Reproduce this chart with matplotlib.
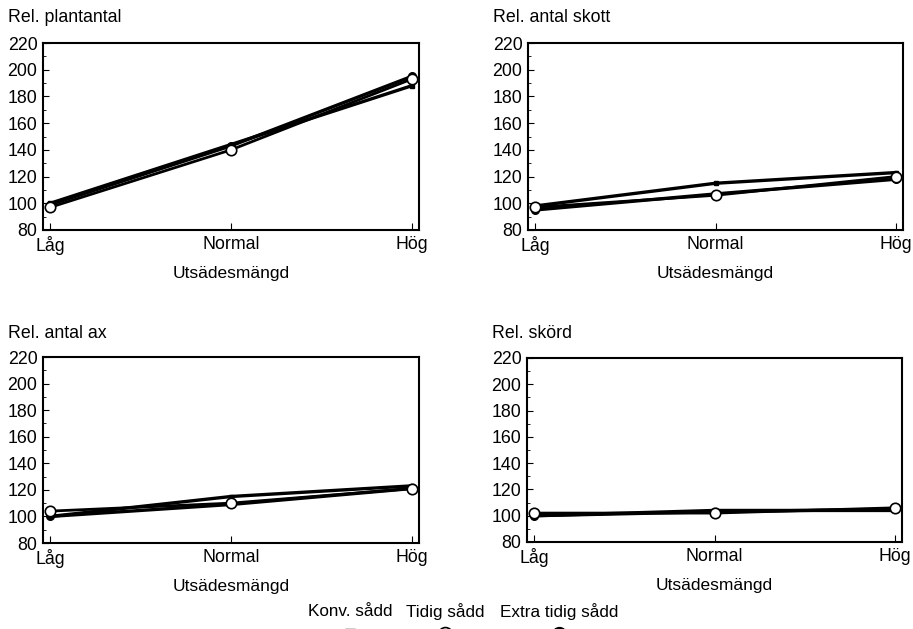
import matplotlib.pyplot as plt
from matplotlib.lines import Line2D

plt.rcParams['font.family'] = ['Liberation Sans', 'DejaVu Sans']

# utsädesmängd
levels = ['Låg', 'Normal', 'Hög']

# relativa värden per egenskap: konv., tidig, extra tidig sådd
plant_konv = [100, 144, 188]
plant_tidig = [97, 140, 193]
plant_extra = [99, 143, 195]

skott_konv = [98, 115, 123]
skott_tidig = [97, 106, 120]
skott_extra = [95, 107, 118]

ax_konv = [100, 115, 123]
ax_tidig = [104, 110, 121]
ax_extra = [100, 109, 121]

skord_konv = [100, 104, 104]
skord_tidig = [102, 102, 106]
skord_extra = [100, 103, 105]

titles = ['Rel. plantantal', 'Rel. antal skott', 'Rel. antal ax', 'Rel. skörd']
legend_labels = ['Konv. sådd', 'Tidig sådd', 'Extra tidig sådd']

W, H = 913, 629
fig = plt.figure(figsize=(W / 100, H / 100), dpi=100)
FS = 12.8

def px_axes(left, top, right, bottom):
    return fig.add_axes([left / W, 1 - bottom / H, (right - left) / W, (bottom - top) / H])

boxes = [(43, 43, 419, 230), (528, 43, 903, 230),
         (43, 357, 419, 543), (527, 358, 902, 542)]
title_pos = [(8, 18), (493, 18), (8, 334), (492, 334)]
data = [(plant_konv, plant_tidig, plant_extra),
        (skott_konv, skott_tidig, skott_extra),
        (ax_konv, ax_tidig, ax_extra),
        (skord_konv, skord_tidig, skord_extra)]

x = list(range(len(levels)))
for box, tpos, title, (konv, tidig, extra) in zip(boxes, title_pos, titles, data):
    ax = px_axes(*box)
    ax.plot(x, extra, color='black', lw=2.4, marker='o', ms=5.5,
            mfc='black', mec='black', zorder=3)
    ax.plot(x, konv, color='black', lw=2.4, marker='s', ms=3.5,
            mfc='black', mec='black', zorder=3)
    ax.plot(x, tidig, color='black', lw=2.0, marker='o', ms=7.5,
            mfc='white', mec='black', mew=1.2, zorder=4)
    ax.set_xlim(-0.04, 2.04)
    ax.set_ylim(80, 220)
    ax.set_yticks(range(80, 221, 20))
    ax.set_xticks(x)
    ax.set_xticklabels(levels)
    ax.set_yticks(range(80, 221, 10), minor=True)
    ax.tick_params(axis='both', which='both', direction='in', labelsize=FS,
                   color='black', labelcolor='black')
    ax.tick_params(axis='y', which='major', length=4, pad=4)
    ax.tick_params(axis='y', which='minor', length=2)
    ax.tick_params(axis='x', which='major', length=5, pad=4)
    ax.set_xlabel('Utsädesmängd', fontsize=12.5, labelpad=8)
    for s in ax.spines.values():
        s.set_linewidth(1.5)
    fig.text(tpos[0] / W, 1 - tpos[1] / H, title, fontsize=FS,
             ha='left', va='center')

# förklaring längst ned, symbolerna under texten
leg_x = [350, 445, 559]
leg_mark = [dict(marker='s', ms=7, mfc='black', mec='black'),
            dict(marker='o', ms=10, mfc='white', mec='black', mew=1.2),
            dict(marker='o', ms=10, mfc='black', mec='black')]
for lx, lab, mk in zip(leg_x, legend_labels, leg_mark):
    fig.text(lx / W, 1 - 612 / H, lab, fontsize=12.3, ha='center', va='center')
    fig.add_artist(Line2D([lx / W], [1 - 634 / H], color='black', lw=0,
                          transform=fig.transFigure, clip_on=False, **mk))

fig.savefig('out.png', dpi=100)
